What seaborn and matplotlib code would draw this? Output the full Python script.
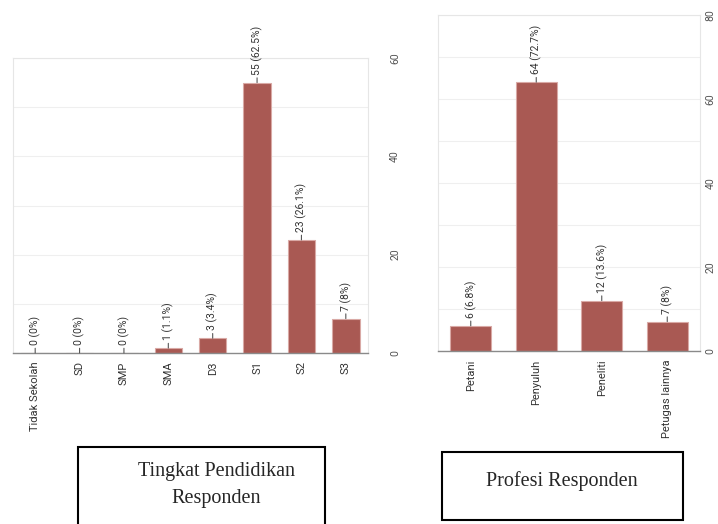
import matplotlib
matplotlib.use("Agg")
import matplotlib.pyplot as plt
import seaborn as sns
import pandas as pd
from matplotlib.patches import Rectangle

# Data
pendidikan = ['Tidak Sekolah', 'SD', 'SMP', 'SMA', 'D3', 'S1', 'S2', 'S3']
jumlah_pendidikan = [0, 0, 0, 1, 3, 55, 23, 7]
persen_pendidikan = ['0%', '0%', '0%', '1.1%', '3.4%', '62.5%', '26.1%', '8%']

profesi = ['Petani', 'Penyuluh', 'Peneliti', 'Petugas lainnya']
jumlah_profesi = [6, 64, 12, 7]
persen_profesi = ['6.8%', '72.7%', '13.6%', '8%']

sns.set_style("whitegrid")
plt.rcParams['font.family'] = ['Roboto', 'DejaVu Sans']
plt.rcParams['font.stretch'] = 'condensed'

bar_color = '#a95953'
W, H = 718, 524
fig = plt.figure(figsize=(W / 100, H / 100), dpi=100)


def draw_panel(ax, cats, vals, pcts, ymax, pad):
    df = pd.DataFrame({'kategori': cats, 'jumlah': vals})
    sns.barplot(data=df, x='kategori', y='jumlah', color=bar_color, width=0.62,
                edgecolor='#d9a9a5', linewidth=0.8, saturation=1, ax=ax)
    ax.set_xlim(-0.5, len(cats) - 0.5)
    ax.set_ylim(0, ymax)
    ax.set_xlabel('')
    ax.set_ylabel('')
    ax.yaxis.tick_right()
    ax.set_yticks(range(0, ymax + 1, 20))
    ax.set_yticks(range(0, ymax + 1, 10), minor=True)
    ax.grid(axis='y', which='both', color='#efefef', lw=0.8)
    ax.grid(axis='x', visible=False)
    ax.tick_params(axis='y', which='both', length=0, pad=pad, labelsize=7.5,
                   labelcolor='#555555', labelrotation=90)
    ax.tick_params(axis='x', length=0, pad=6, labelsize=8, labelcolor='#333333')
    for lab in ax.get_xticklabels():
        lab.set_rotation(90)
    for lab in ax.get_yticklabels():
        lab.set_va('center')
    for s in ['top', 'left', 'right']:
        ax.spines[s].set_color('#e6e6e6')
        ax.spines[s].set_linewidth(0.8)
    ax.spines['bottom'].set_color('#8a8a8a')
    ax.spines['bottom'].set_linewidth(1.0)
    for i, (v, p) in enumerate(zip(vals, pcts)):
        ax.annotate(f'{v} ({p})', xy=(i, v), xytext=(0, 8), textcoords='offset pixels',
                    rotation=90, ha='center', va='bottom', fontsize=7.5, color='#333333',
                    arrowprops=dict(arrowstyle='-', color='#555555', lw=0.8,
                                    shrinkA=0, shrinkB=0))


ax1 = fig.add_axes([13 / W, (H - 353) / H, 355 / W, 295 / H])
draw_panel(ax1, pendidikan, jumlah_pendidikan, persen_pendidikan, 60, 16)

ax2 = fig.add_axes([438 / W, (H - 351) / H, 262 / W, 336 / H])
draw_panel(ax2, profesi, jumlah_profesi, persen_profesi, 80, 4)

# caption boxes
fig.patches.append(Rectangle((78 / W, -0.01), 247 / W, (H - 447) / H + 0.01,
                             transform=fig.transFigure, fill=False, ec='black', lw=1.5))
fig.patches.append(Rectangle((442 / W, (H - 520) / H), 241 / W, 68 / H,
                             transform=fig.transFigure, fill=False, ec='black', lw=1.5))
fig.text(216 / W, (H - 485) / H, 'Tingkat Pendidikan\nResponden', ha='center', va='center',
         fontsize=14.5, family='Liberation Serif', stretch='normal', linespacing=1.6)
fig.text(562 / W, (H - 481) / H, 'Profesi Responden', ha='center', va='center',
         fontsize=14.5, family='Liberation Serif', stretch='normal')

fig.savefig('out.png', dpi=100)
